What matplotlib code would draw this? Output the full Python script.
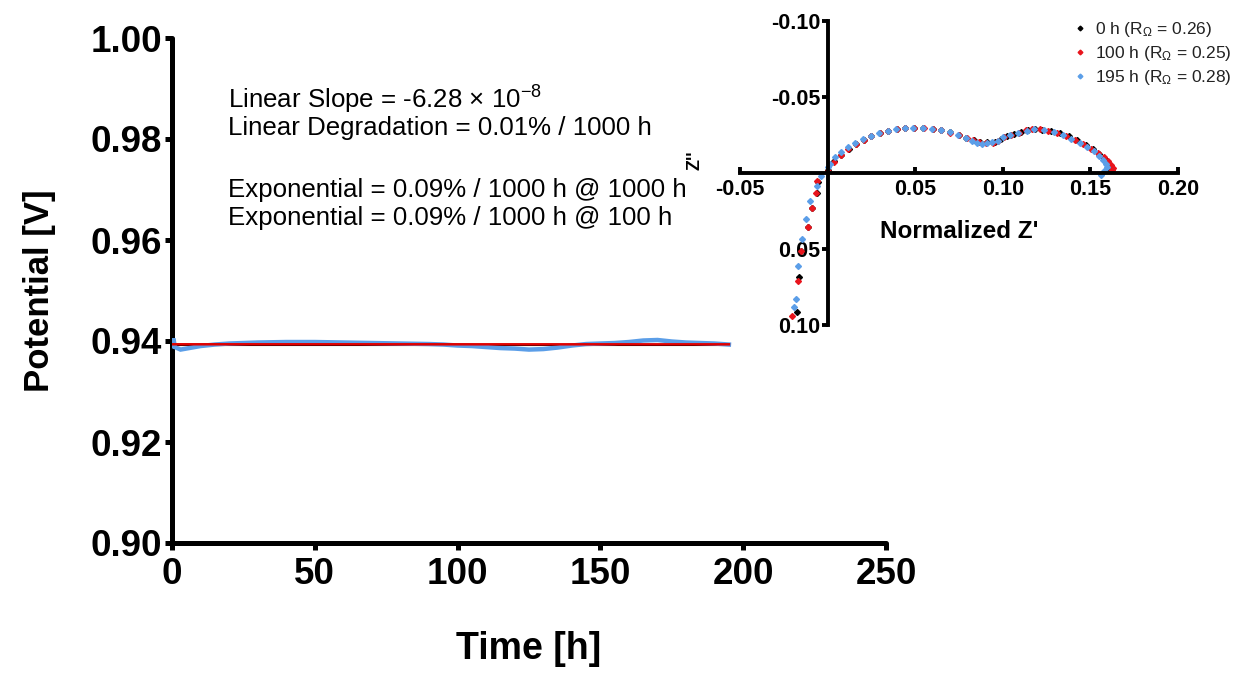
import matplotlib
matplotlib.use("Agg")
import matplotlib.pyplot as plt
from matplotlib.ticker import FormatStrFormatter

plt.rcParams['font.family'] = ['Liberation Sans', 'DejaVu Sans']
plt.rcParams['mathtext.fontset'] = 'custom'
plt.rcParams['mathtext.rm'] = 'Liberation Sans'
plt.rcParams['mathtext.it'] = 'Liberation Sans:italic'
plt.rcParams['axes.unicode_minus'] = False

# durability test: cell potential vs time
time_h = [0, 0.5, 1, 3, 6, 10, 15, 20, 25, 30, 40, 50, 60, 70, 80, 90, 95, 100,
          105, 110, 115, 120, 125, 130, 135, 140, 145, 150, 155, 160, 165, 170,
          175, 180, 185, 190, 195]
potential_v = [0.9390, 0.9405, 0.9388, 0.9383, 0.9386, 0.9390, 0.9393, 0.9395,
               0.9396, 0.9397, 0.9398, 0.9398, 0.9397, 0.9396, 0.9395, 0.9394,
               0.9393, 0.9391, 0.9390, 0.9388, 0.9386, 0.9385, 0.9383, 0.9384,
               0.9387, 0.9391, 0.9394, 0.9395, 0.9396, 0.9398, 0.9401, 0.9402,
               0.9399, 0.9397, 0.9396, 0.9395, 0.9393]

# linear fit endpoints
fit_t = [0, 195]
fit_v = [0.93935, 0.93934]
base_t = [0, 195]
base_v = [0.93925, 0.93925]

notes = ["Linear Slope = -6.28 \u00d7 10$^{-8}$",
         "Linear Degradation = 0.01% / 1000 h",
         "Exponential = 0.09% / 1000 h @ 1000 h",
         "Exponential = 0.09% / 1000 h @ 100 h"]

# impedance spectra (normalized), Z' and Z''
z0_re = [-0.0176, -0.0161, -0.0150, -0.0114, -0.0088, -0.0059, -0.0055, 0.0,
         0.0035, 0.0078, 0.0120, 0.0160, 0.0205, 0.0250, 0.0297, 0.0345, 0.0394,
         0.0443, 0.0493, 0.0546, 0.0599, 0.0649, 0.0699, 0.0748, 0.0790, 0.0835,
         0.0870, 0.0910, 0.0955, 0.0990, 0.1025, 0.1065, 0.1105, 0.1145, 0.1185,
         0.1225, 0.1275, 0.1325, 0.1375, 0.1425, 0.1475, 0.1515, 0.1550, 0.1578,
         0.1595, 0.1605, 0.1608]
z0_im = [0.0917, 0.0682, 0.0510, 0.0357, 0.0228, 0.0134, 0.0060, -0.0020,
         -0.0078, -0.0120, -0.0160, -0.0190, -0.0219, -0.0244, -0.0262, -0.0278,
         -0.0290, -0.0297, -0.0298, -0.0295, -0.0290, -0.0281, -0.0267, -0.0249,
         -0.0232, -0.0218, -0.0207, -0.0202, -0.0206, -0.0222, -0.0245, -0.0256,
         -0.0268, -0.0281, -0.0290, -0.0286, -0.0277, -0.0264, -0.0243, -0.0215,
         -0.0186, -0.0158, -0.0128, -0.0098, -0.0068, -0.0042, -0.0025]

z100_re = [-0.0206, -0.0167, -0.0151, -0.0114, -0.0088, -0.0069, -0.0059, 0.0,
           0.0035, 0.0078, 0.0118, 0.0160, 0.0205, 0.0250, 0.0298, 0.0346, 0.0395,
           0.0443, 0.0494, 0.0548, 0.0600, 0.0650, 0.0700, 0.0750, 0.0795, 0.0830,
           0.0865, 0.0905, 0.0945, 0.0975, 0.1005, 0.1045, 0.1090, 0.1135, 0.1165,
           0.1210, 0.1260, 0.1310, 0.1360, 0.1410, 0.1460, 0.1505, 0.1545, 0.1575,
           0.1598, 0.1615, 0.1627, 0.1622]
z100_im = [0.0939, 0.0708, 0.0511, 0.0357, 0.0230, 0.0134, 0.0050, -0.0015,
           -0.0075, -0.0118, -0.0158, -0.0188, -0.0218, -0.0243, -0.0262, -0.0278,
           -0.0290, -0.0296, -0.0297, -0.0295, -0.0290, -0.0280, -0.0266, -0.0248,
           -0.0228, -0.0215, -0.0203, -0.0195, -0.0198, -0.0208, -0.0238, -0.0253,
           -0.0265, -0.0282, -0.0292, -0.0287, -0.0278, -0.0266, -0.0245, -0.0218,
           -0.0188, -0.0160, -0.0132, -0.0105, -0.0078, -0.0052, -0.0033, -0.0018]

z195_re = [-0.0190, -0.0180, -0.0167, -0.0147, -0.0122, -0.0098, -0.0059, -0.0035,
           0.0, 0.0016, 0.0040, 0.0075, 0.0114, 0.0157, 0.0200, 0.0245, 0.0294,
           0.0343, 0.0392, 0.0441, 0.0490, 0.0545, 0.0598, 0.0647, 0.0696, 0.0745,
           0.0788, 0.0824, 0.0853, 0.0882, 0.0912, 0.0941, 0.0971, 0.1000, 0.1039,
           0.1088, 0.1137, 0.1176, 0.1235, 0.1294, 0.1343, 0.1392, 0.1441, 0.1480,
           0.1520, 0.1549, 0.1573, 0.1588, 0.1592, 0.1578, 0.1559]
z195_im = [0.0880, 0.0829, 0.0610, 0.0434, 0.0303, 0.0182, 0.0088, 0.0018,
           -0.0037, -0.0060, -0.0103, -0.0136, -0.0169, -0.0195, -0.0224, -0.0246,
           -0.0263, -0.0279, -0.0289, -0.0298, -0.0298, -0.0296, -0.0292, -0.0283,
           -0.0268, -0.0250, -0.0230, -0.0213, -0.0200, -0.0193, -0.0195, -0.0202,
           -0.0213, -0.0235, -0.0250, -0.0263, -0.0279, -0.0287, -0.0283, -0.0272,
           -0.0250, -0.0224, -0.0195, -0.0173, -0.0143, -0.0114, -0.0086, -0.0059,
           -0.0037, -0.0015, 0.0011]

eis_labels = ["0 h (R$_\\Omega$ = 0.26)", "100 h (R$_\\Omega$ = 0.25)",
              "195 h (R$_\\Omega$ = 0.28)"]
eis_colors = ['black', '#e8141c', '#5b9ee8']

blue = '#5b9ee8'

fig = plt.figure(figsize=(12.4, 6.75), dpi=100)

# main axes
ax = fig.add_axes([172 / 1240, 1 - 543 / 675, 714 / 1240, 505 / 675])
ax.plot(time_h, potential_v, color=blue, lw=3.2, solid_joinstyle='miter', zorder=3)
ax.plot(base_t, base_v, color='black', lw=1.5, zorder=2)
ax.plot(fit_t, fit_v, color='#e00000', lw=1.8, zorder=4)

ax.set_xlim(0, 250)
ax.set_ylim(0.90, 1.00)
ax.set_xticks([0, 50, 100, 150, 200, 250])
ax.set_yticks([0.90, 0.92, 0.94, 0.96, 0.98, 1.00])
ax.yaxis.set_major_formatter(FormatStrFormatter('%.2f'))
for side in ['top', 'right']:
    ax.spines[side].set_visible(False)
for side in ['left', 'bottom']:
    ax.spines[side].set_linewidth(3.6)
    ax.spines[side].set_capstyle('round')
ax.tick_params(axis='both', width=3.6, length=5, labelsize=26.5)
ax.tick_params(axis='y', pad=2)
ax.tick_params(axis='x', pad=5)
for lab in ax.get_xticklabels() + ax.get_yticklabels():
    lab.set_fontweight('bold')

ax.set_xlabel("Time [h]", fontsize=27, fontweight='bold')
ax.set_ylabel("Potential [V]", fontsize=25, fontweight='bold')
ax.xaxis.set_label_coords(0.5, -0.175)
ax.yaxis.set_label_coords(-0.162, 0.5)

note_y = [0.878, 0.822, 0.700, 0.644]
for txt, yy in zip(notes, note_y):
    ax.text(0.078, yy, txt, transform=ax.transAxes, fontsize=18.6,
            va='center', ha='left')

# inset: Nyquist plot
ins = fig.add_axes([740 / 1240, 1 - 325 / 675, 438 / 1240, 304 / 675])
ins.patch.set_alpha(0)
for re, im, col, lab in zip([z0_re, z100_re, z195_re], [z0_im, z100_im, z195_im],
                            eis_colors, eis_labels):
    ins.plot(re, im, ls='none', marker='D', ms=3.0, color=col, label=lab)
ins.set_xlim(-0.05, 0.20)
ins.set_ylim(0.10, -0.10)
ins.spines['left'].set_position(('data', 0))
ins.spines['bottom'].set_position(('data', 0))
for side in ['top', 'right']:
    ins.spines[side].set_visible(False)
for side in ['left', 'bottom']:
    ins.spines[side].set_linewidth(2.8)
ins.set_xticks([-0.05, 0.05, 0.10, 0.15, 0.20])
ins.set_yticks([-0.10, -0.05, 0.05, 0.10])
ins.xaxis.set_major_formatter(FormatStrFormatter('%.2f'))
ins.yaxis.set_major_formatter(FormatStrFormatter('%.2f'))
ins.tick_params(axis='y', width=2.8, length=4, labelsize=15.5, pad=1)
ins.tick_params(axis='x', width=2.8, length=4, direction='in', labelsize=15.5, pad=4)
for lab in ins.get_xticklabels() + ins.get_yticklabels():
    lab.set_fontweight('bold')
ins.text(0.0753, 0.0388, "Normalized Z'", fontsize=17.5, fontweight='bold',
         ha='center', va='center')
fig.text(695 / 1240, 1 - 160 / 675, "Z''", rotation=90, fontsize=13,
         fontweight='bold', ha='center', va='center')

leg = ins.legend(loc='upper left', bbox_to_anchor=(1076 / 1240, 1 - 20 / 675),
                 bbox_transform=fig.transFigure, frameon=False, fontsize=12.5,
                 handlelength=0.5, handletextpad=0.6, labelspacing=0.3,
                 borderaxespad=0, borderpad=0, markerscale=0.8)
for t in leg.get_texts():
    t.set_color('#222222')

fig.savefig("out.png", dpi=100)
